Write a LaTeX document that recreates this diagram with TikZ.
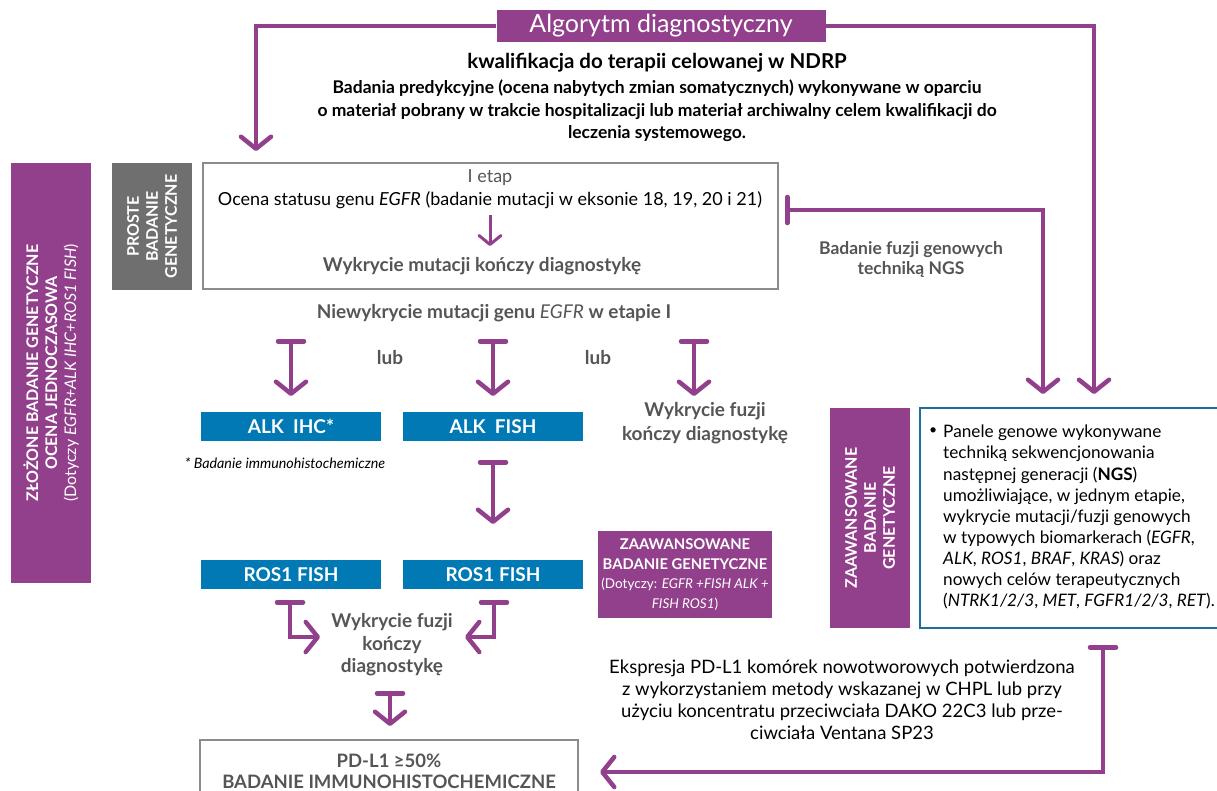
\documentclass[tikz,border=0pt]{standalone}
\usepackage{fontspec}
\setmainfont{Lato}
\usetikzlibrary{arrows.meta,calc}
\definecolor{pur}{RGB}{146,64,140}
\definecolor{blu}{RGB}{0,121,181}
\definecolor{gbox}{RGB}{111,111,111}
\definecolor{gtxt}{RGB}{85,85,85}
\definecolor{gline}{RGB}{140,140,140}
\definecolor{ngsline}{RGB}{30,110,150}
\newcommand{\fs}[2]{\fontsize{#1}{#2}\selectfont}
\begin{document}
\begin{tikzpicture}[x=1pt,y=-1pt,
  conn/.style={draw=pur,line width=4.5pt},
  tarrow/.style={conn,{Bar[width=26pt,round]}-{Straight Barb[length=12pt,width=30pt,round]}},
  parrow/.style={conn,-{Straight Barb[length=12pt,width=30pt,round]}},
  bluebox/.style={fill=blu,text=white,font=\fs{19}{22}\bfseries,minimum width=180pt,minimum height=29pt,inner sep=0pt},
  purbox/.style={fill=pur,text=white,inner sep=0pt,align=center},
  graytext/.style={text=gtxt,font=\fs{19}{22}\bfseries,align=center,inner sep=0pt},
  plain/.style={font=\fs{18}{22}\selectfont,align=center,inner sep=0pt}
]
\useasboundingbox (0,0) rectangle (1217,790);
\clip (0,0) rectangle (1217,790);

% title
\node[purbox,minimum width=329pt,minimum height=32pt,font=\fs{25}{26}] (title) at (661,26) {Algorytm diagnostyczny};
\coordinate (tipL) at (256,151);
\coordinate (tipR) at (1094,394);
\draw[parrow] (title.west) -| (tipL);
\draw[parrow] (title.east) -| (tipR);

% heading
\node[font=\fs{20.5}{24}\bfseries,inner sep=0pt] (head) at (657,63) {kwalifikacja do terapii celowanej w NDRP};
\node[font=\fs{17.5}{22.5}\bfseries,align=center,inner sep=0pt] (intro) at (657,111) {Badania predykcyjne (ocena nabytych zmian somatycznych) wykonywane w oparciu\\o materiał pobrany w trakcie hospitalizacji lub materiał archiwalny celem kwalifikacji do\\leczenia systemowego.};

% side boxes
\node[purbox,rotate=90,minimum width=420pt,minimum height=80pt,font=\fs{16}{19}] (zloz) at (51,373) {{\bfseries ZŁOŻONE BADANIE GENETYCZNE}\\{\bfseries OCENA JEDNOCZASOWA}\\(Dotyczy \textit{EGFR+ALK IHC+ROS1 FISH})};
\node[fill=gbox,text=white,inner sep=0pt,align=center,rotate=90,minimum width=127pt,minimum height=80pt,font=\fs{16}{19}\bfseries] (proste) at (152,226.5) {PROSTE\\BADANIE\\GENETYCZNE};

% EGFR box
\node[draw=gline,line width=1.5pt,minimum width=575pt,minimum height=126pt,inner sep=0pt] (egfr) at (490.5,226) {};
\node[font=\fs{18}{20},text=gtxt,inner sep=0pt] (etap) at (490,178) {I etap};
\node[plain] (ocena) at (490,200) {Ocena statusu genu \textit{EGFR} (badanie mutacji w eksonie 18, 19, 20 i 21)};
\node[graytext] (wykm) at (482,266) {Wykrycie mutacji kończy diagnostykę};
\draw[draw=pur,line width=3pt,-{Straight Barb[length=9pt,width=22pt,round]}] (490,215) -- (490,246);

% niewykrycie
\node[graytext] (niew) at (494,313) {Niewykrycie mutacji genu {\mdseries\itshape EGFR} w etapie I};
\node[graytext] (lub1) at (390,358) {lub};
\node[graytext] (lub2) at (598,358) {lub};

\node[bluebox] (alkihc) at (291,426.5) {ALK~~IHC*};
\node[bluebox] (alkfish) at (493,426.5) {ALK~~FISH};
\node[graytext,font=\fs{19}{24}\bfseries] (fuz1) at (705,423) {Wykrycie fuzji\\kończy diagnostykę};
\node[font=\fs{14.3}{16}\itshape,inner sep=0pt] (note) at (285,463) {* Badanie immunohistochemiczne};

\coordinate (a1) at (291,339); \coordinate (a1e) at (291,396);
\coordinate (a2) at (493,339); \coordinate (a2e) at (493,396);
\coordinate (a3) at (694,339); \coordinate (a3e) at (694,396);
\draw[tarrow] (a1) -- (a1e);
\draw[tarrow] (a2) -- (a2e);
\draw[tarrow] (a3) -- (a3e);

\coordinate (b1) at (493,460);
\coordinate (b1e) at (493,524);
\draw[tarrow] (b1) -- (b1e);

\node[bluebox] (ros1) at (291,574.5) {ROS1 FISH};
\node[bluebox] (ros2) at (493,574.5) {ROS1 FISH};

\node[purbox,minimum width=174pt,minimum height=87pt,font=\fs{14.8}{19.5}] (zaaw) at (685,574.5) {{\bfseries ZAAWANSOWANE}\\{\bfseries BADANIE GENETYCZNE}\\{\fs{13.5}{19.5}(Dotyczy: \textit{EGFR +FISH ALK +}}\\{\fs{13.5}{19.5}\textit{FISH ROS1})}};

\node[graytext,font=\fs{19}{22.5}\bfseries] (fuz2) at (392,645) {Wykrycie fuzji\\kończy\\diagnostykę};
\coordinate (c1) at (290,600); \coordinate (c1e) at (320,637);
\coordinate (c2) at (494,600); \coordinate (c2e) at (465,637);
\draw[tarrow] (c1) |- (c1e);
\draw[tarrow] (c2) |- (c2e);

\coordinate (d1) at (390,691); \coordinate (d1e) at (390,726);
\draw[tarrow] (d1) -- (d1e);

\node[draw=gline,line width=1.5pt,minimum width=378pt,minimum height=80pt,inner sep=0pt] (pdl) at (389,780) {};
\node[graytext,font=\fs{18.5}{21}\bfseries] (pdltxt) at (389,771) {PD-L1 ≥50\%\\BADANIE IMMUNOHISTOCHEMICZNE};

% NGS part
\node[purbox,rotate=90,minimum width=220pt,minimum height=80pt,font=\fs{16}{19}\bfseries] (zaaw2) at (870,518) {ZAAWANSOWANE\\BADANIE\\GENETYCZNE};
\node[draw=ngsline,line width=1.5pt,minimum width=310pt,minimum height=220pt,inner sep=0pt] (ngs) at (1075,518) {};
\node[font=\fs{14}{21.1},anchor=north west,inner sep=0pt] (bul) at (929,428) {\textbullet};
\node[font=\fs{17.2}{21.1},anchor=north west,align=left,inner sep=0pt] (ngstxt) at (943,425) {Panele genowe wykonywane\\techniką sekwencjonowania\\następnej generacji (\textbf{NGS})\\umożliwiające, w jednym etapie,\\wykrycie mutacji/fuzji genowych\\w typowych biomarkerach (\textit{EGFR},\\\textit{ALK}, \textit{ROS1}, \textit{BRAF}, \textit{KRAS}) oraz\\nowych celów terapeutycznych\\(\textit{NTRK1/2/3}, \textit{MET}, \textit{FGFR1/2/3}, \textit{RET}).};

\coordinate (e1) at (785,210); \coordinate (e1e) at (1043,394);
\draw[tarrow] (e1) -| (e1e);
\node[graytext,font=\fs{17.5}{20}\bfseries] (fuzngs) at (911,260) {Badanie fuzji genowych\\techniką NGS};

\coordinate (f1) at (1103,645); \coordinate (f1e) at (600,772);
\draw[tarrow] (f1) |- (f1e);
\node[plain,font=\fs{18.5}{22}] (ekspr) at (842,700) {Ekspresja PD-L1 komórek nowotworowych potwierdzona\\z wykorzystaniem metody wskazanej w CHPL lub przy\\użyciu koncentratu przeciwciała DAKO 22C3 lub prze-\\ciwciała Ventana SP23};
\end{tikzpicture}
\end{document}
